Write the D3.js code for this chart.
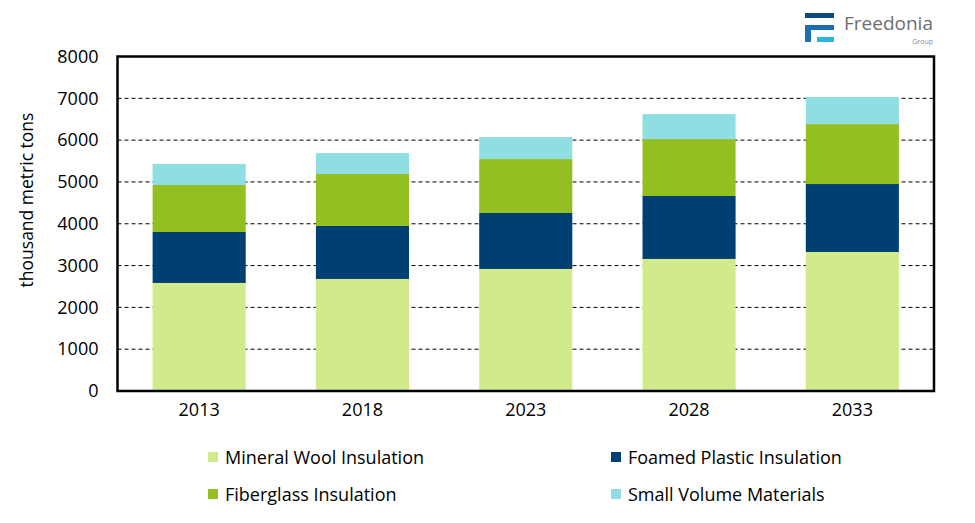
<!DOCTYPE html>
<html><head><meta charset="utf-8">
<script src="https://cdn.jsdelivr.net/npm/d3@7"></script>
<style>body{margin:0;background:#fff}svg{display:block}text{font-family:"Open Sans",sans-serif}</style>
</head><body><svg id="c" width="975" height="523"></svg>
<script>
const years = ["2013","2018","2023","2028","2033"];
const seriesNames = ["Mineral Wool Insulation","Foamed Plastic Insulation","Fiberglass Insulation","Small Volume Materials"];
const mineralWool = [2584,2680,2919,3158,3325];
const foamedPlastic = [1219,1267,1338,1506,1625];
const fiberglass = [1124,1243,1290,1360,1433];
const smallVolume = [502,500,526,598,648];
const yTicks = [0,1000,2000,3000,4000,5000,6000,7000,8000];
const colors = ["#d1ea8b","#003f72","#93bf21","#8fdee2"];

const svg = d3.select("#c");
const m = {l:117.5, r:934, t:56.5, b:391};
const x = d3.scaleBand().domain(years).range([m.l,m.r]).paddingInner(0.43).paddingOuter(0.215);
const y = d3.scaleLinear().domain([0,8000]).range([m.b,m.t]);

const rows = years.map((yr,i)=>({year:yr, s0:mineralWool[i], s1:foamedPlastic[i], s2:fiberglass[i], s3:smallVolume[i]}));
const stack = d3.stack().keys(["s0","s1","s2","s3"])(rows);

// gridlines
svg.append("g").selectAll("line").data(yTicks.filter(d=>d>0 && d<8000)).join("line")
  .attr("x1",m.l).attr("x2",m.r).attr("y1",d=>y(d)).attr("y2",d=>y(d))
  .attr("stroke","#000").attr("stroke-width",1).attr("stroke-dasharray","4,3");

// bars
svg.append("g").selectAll("g").data(stack).join("g").attr("fill",(d,i)=>colors[i])
  .selectAll("rect").data(d=>d).join("rect")
  .attr("x",d=>x(d.data.year)).attr("width",x.bandwidth())
  .attr("y",d=>y(d[1])).attr("height",d=>y(d[0])-y(d[1]));

// frame
svg.append("rect").attr("x",m.l).attr("y",m.t).attr("width",m.r-m.l).attr("height",m.b-m.t)
  .attr("fill","none").attr("stroke","#000").attr("stroke-width",2.5);

// y axis
const ya = svg.append("g").attr("transform",`translate(${m.l},0)`)
  .call(d3.axisLeft(y).tickValues(yTicks).tickSize(0).tickPadding(19).tickFormat(d3.format("d")));
ya.select(".domain").remove();
ya.selectAll("text").attr("font-size",18).attr("fill","#000").attr("font-family","'Open Sans',sans-serif");

// x axis
const xa = svg.append("g").attr("transform",`translate(0,${m.b})`)
  .call(d3.axisBottom(x).tickSize(0).tickPadding(12));
xa.select(".domain").remove();
xa.selectAll("text").attr("font-size",18).attr("fill","#000").attr("font-family","'Open Sans',sans-serif");

// y label
svg.append("text").attr("transform","translate(33,200) rotate(-90)").attr("text-anchor","middle")
  .attr("font-size",17.5).attr("fill","#000").text("thousand metric tons");

// legend
const legPos = [[208,457],[611,457],[208,494],[611,494]];
const lg = svg.append("g").selectAll("g").data(seriesNames).join("g")
  .attr("transform",(d,i)=>`translate(${legPos[i][0]},${legPos[i][1]})`);
lg.append("rect").attr("x",0).attr("y",-5).attr("width",10).attr("height",10).attr("fill",(d,i)=>colors[i]);
lg.append("text").attr("x",17).attr("y",6.5).attr("font-size",18).attr("fill","#000").text(d=>d);

// logo
const logo = svg.append("g");
logo.append("rect").attr("x",805).attr("y",13).attr("width",29).attr("height",5).attr("fill","#0b4a7c");
logo.append("rect").attr("x",805).attr("y",25).attr("width",29).attr("height",5).attr("fill","#1a6fb3");
logo.append("rect").attr("x",805).attr("y",25).attr("width",6).attr("height",17).attr("fill","#1a6fb3");
logo.append("rect").attr("x",817).attr("y",37).attr("width",17).attr("height",5).attr("fill","#2bb8d6");
logo.append("text").attr("x",844).attr("y",30).attr("font-size",19).attr("fill","#6d6e71").text("Freedonia");
logo.append("text").attr("x",933).attr("y",43.5).attr("text-anchor","end").attr("font-size",7).attr("fill","#8a8b8d").text("Group");
</script></body></html>
